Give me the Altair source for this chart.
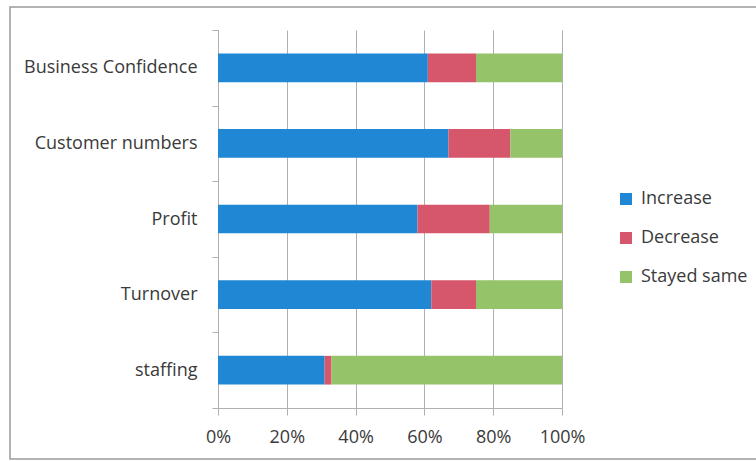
import altair as alt
import pandas as pd

categories = ["Business Confidence", "Customer numbers", "Profit", "Turnover", "staffing"]
series = ["Increase", "Decrease", "Stayed same"]
increase = [61, 67, 58, 62, 31]
decrease = [14, 18, 21, 13, 2]
stayed_same = [25, 15, 21, 25, 67]
colors = ["#1f87d3", "#d6566b", "#94c36a"]
x_ticks = [0, 0.2, 0.4, 0.6, 0.8, 1.0]

rows = []
for i, c in enumerate(categories):
    for j, (s, vals) in enumerate(zip(series, [increase, decrease, stayed_same])):
        rows.append({"category": c, "series": s, "value": vals[i], "order": j})
df = pd.DataFrame(rows)

font = "Open Sans"
grey = "#b0b0b0"
text_col = "#3a3a3a"

bars = alt.Chart(df).mark_bar(height={"band": 0.38}).encode(
    y=alt.Y(
        "category:N", sort=categories, title=None,
        scale=alt.Scale(paddingInner=0, paddingOuter=0),
        axis=alt.Axis(tickBand="extent", tickSize=6, labelPadding=15, labelFontSize=18,
                      labelFont=font, labelColor=text_col, domainColor=grey, tickColor=grey,
                      grid=False, labelLimit=300),
    ),
    x=alt.X(
        "value:Q", stack="normalize", title=None,
        scale=alt.Scale(domain=[0, 1], nice=False),
        axis=alt.Axis(values=x_ticks, format=".0%", tickSize=7, grid=True, gridColor=grey,
                      domainColor=grey, tickColor=grey, labelPadding=13, labelFontSize=18,
                      labelFont=font, labelColor=text_col, labelFlush=False),
    ),
    color=alt.Color(
        "series:N",
        scale=alt.Scale(domain=series, range=colors),
        legend=alt.Legend(title=None, orient="none", legendX=399, legendY=160,
                          symbolType="square", symbolSize=144, symbolStrokeWidth=0,
                          labelFontSize=18, labelFont=font, labelColor=text_col,
                          labelOffset=6, rowPadding=21, padding=0),
    ),
    order=alt.Order("order:Q"),
)

frame = alt.Chart(alt.Data(values=[{"k": 1}])).mark_rect(
    fill="transparent", stroke="#9a9a9a", strokeWidth=1.5
).encode(
    x=alt.value(-208), x2=alt.value(560), y=alt.value(-23), y2=alt.value(429)
)

chart = alt.layer(frame, bars).properties(
    width=344, height=378,
    autosize=alt.AutoSizeParams(type="none"),
    padding={"left": 218, "top": 30, "right": 194, "bottom": 53},
    background="white",
).configure_view(stroke="transparent")

chart.save("out.html", embed_options={"renderer": "svg", "actions": False})
